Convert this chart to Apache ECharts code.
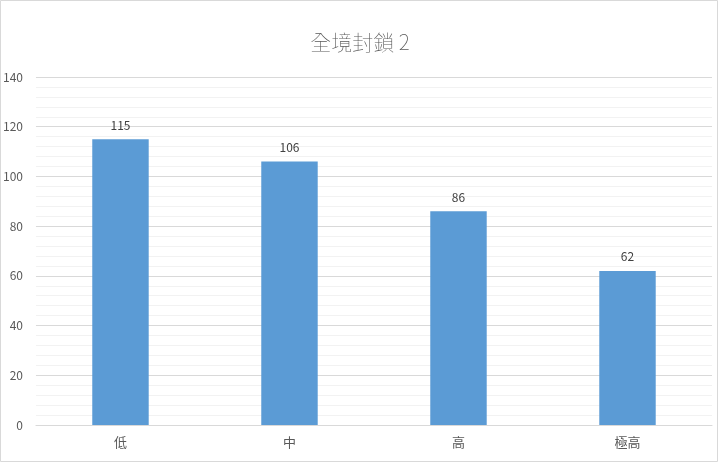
<!DOCTYPE html>
<html>
<head>
<meta charset="utf-8">
<script src="https://cdn.jsdelivr.net/npm/echarts@6/dist/echarts.min.js"></script>
<style>
  html, body { margin: 0; padding: 0; background: #fff; }
  #main { width: 720px; height: 463px; }
</style>
</head>
<body>
<div id="main"></div>
<script>
// 圖表資料
var titleText = '全境封鎖 2';
var categories = ['低', '中', '高', '極高'];
var values = [115, 106, 86, 62];
var yMin = 0, yMax = 140, yStep = 20;

var chart = echarts.init(document.getElementById('main'));
var font = '"Noto Sans CJK TC", "Noto Sans", sans-serif';

var option = {
  backgroundColor: '#ffffff',
  animation: false,
  title: {
    text: titleText,
    left: 'center',
    top: 27,
    textStyle: { fontFamily: font, fontSize: 21, fontWeight: 'lighter', color: '#595959' }
  },
  graphic: [{
    type: 'rect',
    shape: { x: 0.5, y: 0.5, width: 717, height: 461 },
    style: { fill: 'none', stroke: '#d9d9d9', lineWidth: 1 },
    silent: true
  }],
  grid: { left: 35.5, right: 8, top: 77, bottom: 38 },
  xAxis: {
    type: 'category',
    data: categories,
    axisLine: { lineStyle: { color: '#d9d9d9' } },
    axisTick: { show: false },
    axisLabel: { margin: 11, fontFamily: font, fontSize: 13, color: '#595959' }
  },
  yAxis: {
    type: 'value',
    min: yMin,
    max: yMax,
    interval: yStep,
    axisLine: { show: false },
    axisTick: { show: false },
    axisLabel: { margin: 13, fontFamily: font, fontSize: 12, color: '#595959' },
    splitLine: { lineStyle: { color: '#d9d9d9' } },
    minorTick: { show: false, splitNumber: 5 },
    minorSplitLine: { show: true, lineStyle: { color: '#f2f2f2' } }
  },
  series: [{
    type: 'bar',
    data: values,
    barWidth: '33.4%',
    itemStyle: { color: '#5b9bd5' },
    label: {
      show: true,
      position: 'top',
      distance: 8,
      fontFamily: font,
      fontSize: 12,
      color: '#404040'
    }
  }]
};

chart.setOption(option);
</script>
</body>
</html>
